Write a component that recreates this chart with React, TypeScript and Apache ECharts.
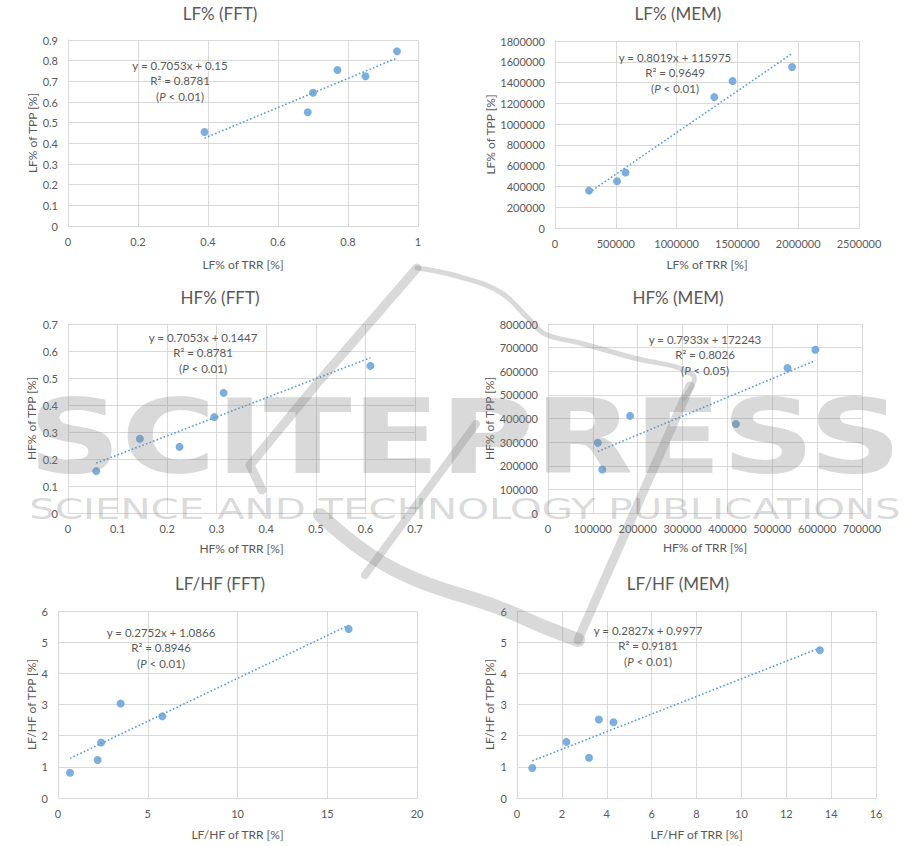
import React, { useEffect, useRef } from "react";
import * as echarts from "echarts";

// ---------- data ----------
const TITLES = ["LF% (FFT)", "LF% (MEM)", "HF% (FFT)", "HF% (MEM)", "LF/HF (FFT)", "LF/HF (MEM)"];
const X_NAMES = ["LF% of TRR [%]", "LF% of TRR [%]", "HF% of TRR [%]", "HF% of TRR [%]", "LF/HF of TRR [%]", "LF/HF of TRR [%]"];
const Y_NAMES = ["LF% of TPP [%]", "LF% of TPP [%]", "HF% of TPP [%]", "HF% of TPP [%]", "LF/HF of TPP [%]", "LF/HF of TPP [%]"];
const X_MAX = [1, 2500000, 0.7, 700000, 20, 16];
const X_STEP = [0.2, 500000, 0.1, 100000, 5, 2];
const Y_MAX = [0.9, 1800000, 0.7, 800000, 6, 6];
const Y_STEP = [0.1, 200000, 0.1, 100000, 1, 1];

const LF_FFT_TRR = [0.39, 0.685, 0.70, 0.77, 0.85, 0.94];
const LF_FFT_TPP = [0.455, 0.55, 0.645, 0.755, 0.725, 0.845];
const LF_MEM_TRR = [280000, 510000, 580000, 1310000, 1460000, 1950000];
const LF_MEM_TPP = [360000, 450000, 535000, 1260000, 1415000, 1550000];
const HF_FFT_TRR = [0.057, 0.145, 0.225, 0.295, 0.314, 0.61];
const HF_FFT_TPP = [0.155, 0.275, 0.245, 0.355, 0.445, 0.545];
const HF_MEM_TRR = [111000, 121000, 183000, 419000, 534000, 596000];
const HF_MEM_TPP = [297000, 184000, 411000, 377000, 614000, 691000];
const LFHF_FFT_TRR = [0.67, 2.21, 2.40, 3.49, 5.81, 16.19];
const LFHF_FFT_TPP = [0.81, 1.22, 1.78, 3.03, 2.62, 5.42];
const LFHF_MEM_TRR = [0.68, 2.20, 3.21, 3.65, 4.30, 13.50];
const LFHF_MEM_TPP = [0.96, 1.80, 1.29, 2.52, 2.43, 4.74];

const TRR = [LF_FFT_TRR, LF_MEM_TRR, HF_FFT_TRR, HF_MEM_TRR, LFHF_FFT_TRR, LFHF_MEM_TRR];
const TPP = [LF_FFT_TPP, LF_MEM_TPP, HF_FFT_TPP, HF_MEM_TPP, LFHF_FFT_TPP, LFHF_MEM_TPP];

// regression lines as printed on the chart
const SLOPES = [0.7053, 0.8019, 0.7053, 0.7933, 0.2752, 0.2827];
const INTERCEPTS = [0.15, 115975, 0.1447, 172243, 1.0866, 0.9977];
const EQUATIONS = [
  "y = 0.7053x + 0.15",
  "y = 0.8019x + 115975",
  "y = 0.7053x + 0.1447",
  "y = 0.7933x + 172243",
  "y = 0.2752x + 1.0866",
  "y = 0.2827x + 0.9977",
];
const R2 = ["R² = 0.8781", "R² = 0.9649", "R² = 0.8781", "R² = 0.8026", "R² = 0.8946", "R² = 0.9181"];
const P_VALUES = ["0.01", "0.01", "0.01", "0.05", "0.01", "0.01"];

// ---------- layout ----------
const GRIDS = [
  { left: 68, top: 40, width: 350, height: 186 },
  { left: 555, top: 41, width: 304, height: 187 },
  { left: 68, top: 324, width: 347, height: 189 },
  { left: 548, top: 324, width: 314, height: 189 },
  { left: 58, top: 611, width: 359, height: 187 },
  { left: 517, top: 611, width: 359, height: 187 },
];
const TITLE_POS = [[220, 13], [678, 13], [220, 297], [678, 297], [220, 583], [678, 583]];
const ANNOT_POS = [[180, 65], [675, 57], [203, 337], [705, 339], [161, 632], [648, 630]];
const Y_NAME_GAP = [28, 58, 31, 53, 21, 22];
const X_NAME_GAP = [32, 30, 29, 28, 30, 30];

const FONT = "Lato, 'Liberation Sans', sans-serif";
const TEXT_COLOR = "#595959";
const BLUE = "#5b9bd5";
const GRID_COLOR = "#d9d9d9";
const WM = "rgba(128,128,128,0.3)";

const fmt = (v: number) => String(parseFloat(Number(v).toFixed(6)));

export default function App() {
  const ref = useRef<HTMLDivElement>(null);

  useEffect(() => {
    document.body.style.margin = "0";
    if (!ref.current) return;
    const chart = echarts.init(ref.current, null, { renderer: "svg" });

    const grid = GRIDS.map((g) => ({ ...g, containLabel: false }));
    const xAxis = GRIDS.map((_, i) => ({
      type: "value",
      gridIndex: i,
      min: 0,
      max: X_MAX[i],
      interval: X_STEP[i],
      name: X_NAMES[i],
      nameLocation: "middle",
      nameGap: X_NAME_GAP[i],
      nameTextStyle: { fontFamily: FONT, fontSize: 12, color: TEXT_COLOR },
      axisLine: { show: true, lineStyle: { color: GRID_COLOR } },
      axisTick: { show: false },
      axisLabel: { fontFamily: FONT, fontSize: 11, color: TEXT_COLOR, margin: 10, formatter: fmt, showMaxLabel: true, showMinLabel: true },
      splitLine: { show: true, lineStyle: { color: GRID_COLOR, width: 1 } },
    }));
    const yAxis = GRIDS.map((_, i) => ({
      type: "value",
      gridIndex: i,
      min: 0,
      max: Y_MAX[i],
      interval: Y_STEP[i],
      name: Y_NAMES[i],
      nameLocation: "middle",
      nameGap: Y_NAME_GAP[i],
      nameRotate: 90,
      nameTextStyle: { fontFamily: FONT, fontSize: 12, color: TEXT_COLOR },
      axisLine: { show: true, lineStyle: { color: GRID_COLOR } },
      axisTick: { show: false },
      axisLabel: { fontFamily: FONT, fontSize: 11, color: TEXT_COLOR, margin: 10, formatter: fmt, showMaxLabel: true, showMinLabel: true },
      splitLine: { show: true, lineStyle: { color: GRID_COLOR, width: 1 } },
    }));

    const series: any[] = [];
    GRIDS.forEach((_, i) => {
      const xs = TRR[i];
      const ys = TPP[i];
      const x0 = Math.min(...xs);
      const x1 = Math.max(...xs);
      series.push({
        type: "line",
        xAxisIndex: i,
        yAxisIndex: i,
        data: [
          [x0, SLOPES[i] * x0 + INTERCEPTS[i]],
          [x1, SLOPES[i] * x1 + INTERCEPTS[i]],
        ],
        showSymbol: false,
        symbol: "none",
        lineStyle: { color: BLUE, width: 1.6, type: [1.6, 2.2] },
        silent: true,
        z: 2,
      });
      series.push({
        type: "scatter",
        xAxisIndex: i,
        yAxisIndex: i,
        data: xs.map((x, k) => [x, ys[k]]),
        symbol: "circle",
        symbolSize: 8,
        itemStyle: { color: BLUE },
        z: 3,
      });
    });

    const graphics: any[] = [];
    TITLES.forEach((t, i) => {
      graphics.push({
        type: "text",
        x: TITLE_POS[i][0],
        y: TITLE_POS[i][1],
        style: {
          text: t,
          fontFamily: FONT,
          fontSize: 17,
          fill: TEXT_COLOR,
          align: "center",
          textAlign: "center",
          verticalAlign: "middle",
          textVerticalAlign: "middle",
        },
      });
    });
    ANNOT_POS.forEach(([ax, ay], i) => {
      const lines = [EQUATIONS[i], R2[i]];
      lines.forEach((l, k) => {
        graphics.push({
          type: "text",
          x: ax,
          y: ay + k * 15.5,
          z: 10,
          style: {
            text: l,
            fontFamily: FONT,
            fontSize: 11.5,
            fill: TEXT_COLOR,
            align: "center",
            textAlign: "center",
            verticalAlign: "middle",
            textVerticalAlign: "middle",
          },
        });
      });
      graphics.push({
        type: "text",
        x: ax,
        y: ay + 31,
        z: 10,
        style: {
          text: "({i|P} < " + P_VALUES[i] + ")",
          fontFamily: FONT,
          fontSize: 11.5,
          fill: TEXT_COLOR,
          align: "center",
          textAlign: "center",
          verticalAlign: "middle",
          textVerticalAlign: "middle",
          rich: {
            i: { fontFamily: FONT, fontSize: 11.5, fontStyle: "italic", fill: TEXT_COLOR },
          },
        },
      });
    });

    // publisher watermark (text + swoosh)
    graphics.push({
      type: "text",
      x: 465,
      y: 437,
      z: 50,
      silent: true,
      scaleX: 1.24,
      style: {
        text: "SCITEPRESS",
        fontFamily: "'DejaVu Sans', sans-serif",
        fontWeight: "bold",
        fontSize: 104,
        fill: WM,
        align: "center",
        textAlign: "center",
        verticalAlign: "middle",
        textVerticalAlign: "middle",
      },
    });
    graphics.push({
      type: "text",
      x: 465,
      y: 509,
      z: 50,
      silent: true,
      scaleX: 1.39,
      style: {
        text: "SCIENCE AND TECHNOLOGY PUBLICATIONS",
        fontFamily: "'DejaVu Sans', sans-serif",
        fontSize: 29,
        fill: WM,
        align: "center",
        textAlign: "center",
        verticalAlign: "middle",
        textVerticalAlign: "middle",
      },
    });
    const strokes: [number[][], number, number][] = [
      [[[417, 268], [457, 276], [500, 292], [527, 317], [545, 334], [580, 343], [630, 357], [693, 375], [684, 398]], 5, 0.4],
      [[[417, 268], [320, 380], [250, 465], [262, 490]], 9, 0],
      [[[476, 424], [365, 575]], 8, 0],
      [[[320, 515], [367, 553], [417, 580], [497, 607], [547, 628], [578, 640]], 14, 0.4],
      [[[578, 640], [690, 386]], 9, 0],
    ];
    strokes.forEach(([pts, w, smooth]) => {
      graphics.push({
        type: "polyline",
        z: 49,
        silent: true,
        shape: { points: pts, smooth },
        style: { stroke: WM, lineWidth: w, fill: "none", lineCap: "round", lineJoin: "round" },
      });
    });

    chart.setOption({
      animation: false,
      backgroundColor: "#ffffff",
      grid,
      xAxis,
      yAxis,
      series,
      graphic: { elements: graphics },
    });

    return () => chart.dispose();
  }, []);

  return <div ref={ref} style={{ width: 916, height: 846 }} />;
}
